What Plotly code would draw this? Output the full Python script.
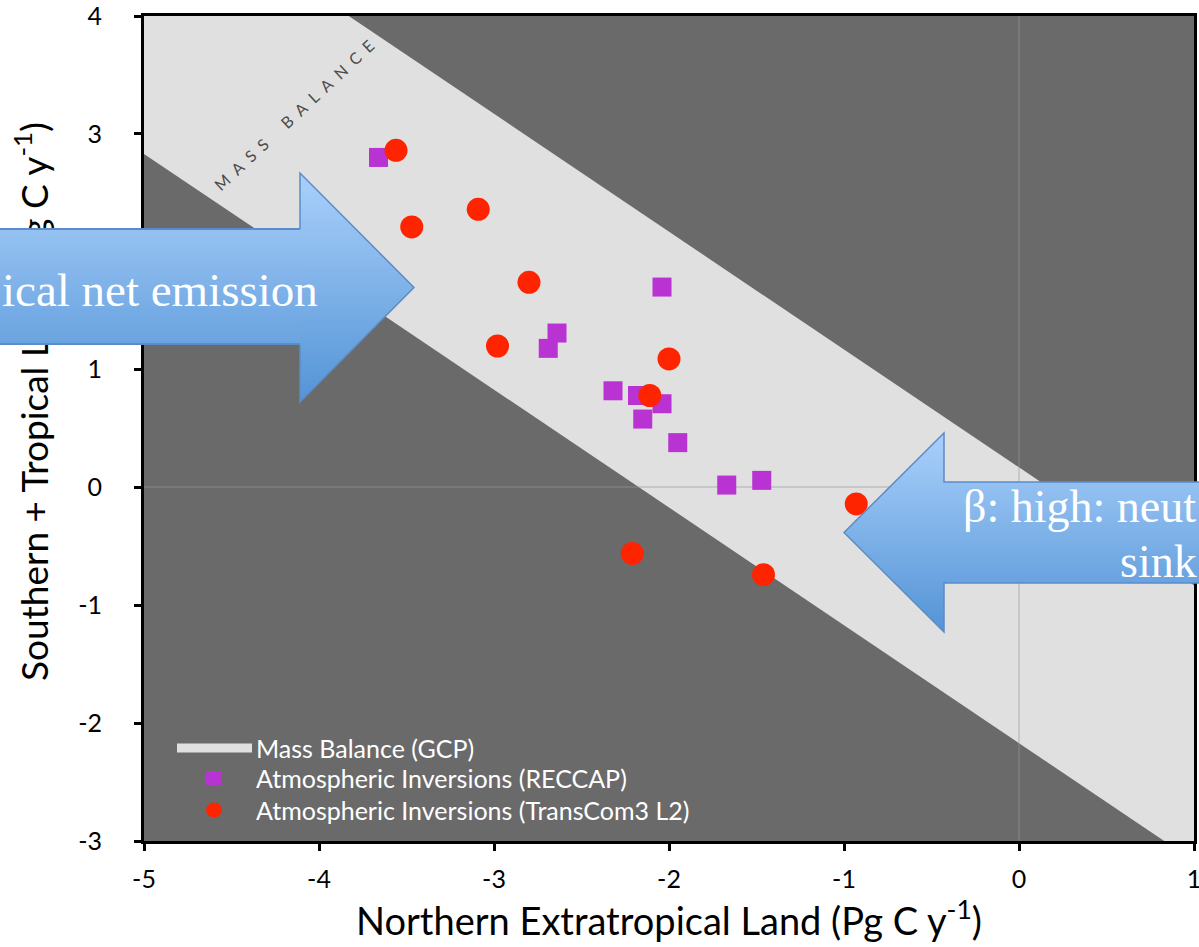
import plotly.graph_objects as go

# ---------------- data ----------------
reccap_x = [-3.66, -2.04, -2.64, -2.69, -2.32, -2.18, -2.04, -2.15, -1.95, -1.67, -1.47]
reccap_y = [2.80, 1.70, 1.31, 1.18, 0.82, 0.78, 0.71, 0.58, 0.38, 0.02, 0.06]

transcom_x = [-3.56, -3.47, -3.09, -2.80, -2.98, -2.00, -2.11, -2.21, -1.46, -0.93]
transcom_y = [2.86, 2.21, 2.36, 1.74, 1.20, 1.09, 0.78, -0.56, -0.74, -0.14]

# mass balance band: North + South/Tropical land sum between these limits
mass_balance_limits = [-2.17, 0.17]

x_range = [-5, 1]
y_range = [-3, 4]
x_tickvals = [-5, -4, -3, -2, -1, 0, 1]
x_ticktext = ["-5", "-4", "-3", "-2", "-1", "0", "1"]
y_tickvals = [-3, -2, -1, 0, 1, 2, 3, 4]
y_ticktext = ["-3", "-2", "-1", "0", "1", "2", "3", "4"]

legend_names = ["Mass Balance (GCP)", "Atmospheric Inversions (RECCAP)",
                "Atmospheric Inversions (TransCom3 L2)"]
arrow_texts = ["ical net emission", "β: high: neut", "sink"]

# ---------------- layout geometry (pixels) ----------------
W, H = 1199, 947
L, R, T, B = 144, 1194, 16, 841
FONT = "Lato"
PURPLE = "#b932d2"
RED = "#ff2400"
BAND = "#e0e0e0"
DARK = "#6a6a6a"


def pxx(x):
    return (x - L) / (R - L)


def pxy(y):
    return (B - y) / (B - T)


fig = go.Figure()

fig.add_trace(go.Scatter(
    x=reccap_x, y=reccap_y, mode="markers", name=legend_names[1],
    marker=dict(symbol="square", size=19, color=PURPLE, line=dict(width=0)),
    showlegend=False, cliponaxis=False))
fig.add_trace(go.Scatter(
    x=transcom_x, y=transcom_y, mode="markers", name=legend_names[2],
    marker=dict(symbol="circle", size=23, color=RED, line=dict(width=0)),
    showlegend=False, cliponaxis=False))

shapes = []
annotations = []

# band polygon (data coords, clipped by axes)
lo, hi = mass_balance_limits
x0, x1 = x_range
shapes.append(dict(
    type="path", xref="x", yref="y", layer="below",
    path=f"M{x0},{hi - x0} L{x1},{hi - x1} L{x1},{lo - x1} L{x0},{lo - x0} Z",
    fillcolor=BAND, line=dict(width=0)))

# ---------------- arrows with vertical gradient ----------------
TOP_C = (170, 208, 251)
BOT_C = (84, 148, 214)
EDGE = "#5a8ccb"


def grad(y, ytop, ybot):
    t = min(1, max(0, (y - ytop) / (ybot - ytop)))
    c = [round(a + (b - a) * t) for a, b in zip(TOP_C, BOT_C)]
    return "rgb(%d,%d,%d)" % tuple(c)


def clip(poly, inside, inter):
    out = []
    for i in range(len(poly)):
        cur, prev = poly[i], poly[i - 1]
        if inside(cur):
            if not inside(prev):
                out.append(inter(prev, cur))
            out.append(cur)
        elif inside(prev):
            out.append(inter(prev, cur))
    return out


def hcut(yc):
    def f(p, q):
        t = (yc - p[1]) / (q[1] - p[1])
        return (p[0] + t * (q[0] - p[0]), yc)
    return f


def gradient_shapes(poly, ytop, ybot, step=3):
    y = ytop
    while y < ybot:
        y0, y1 = y - 0.4, min(y + step, ybot) + 0.4
        p = clip(poly, lambda q: q[1] >= y0, hcut(y0))
        if p:
            p = clip(p, lambda q: q[1] <= y1, hcut(y1))
        if len(p) >= 3:
            path = "M" + " L".join(f"{pxx(a):.5f},{pxy(b):.5f}" for a, b in p) + " Z"
            shapes.append(dict(type="path", xref="paper", yref="paper", layer="above",
                               path=path, fillcolor=grad(y + step / 2, ytop, ybot),
                               line=dict(width=0)))
        y += step


def outline(points):
    path = "M" + " L".join(f"{pxx(a):.5f},{pxy(b):.5f}" for a, b in points)
    shapes.append(dict(type="path", xref="paper", yref="paper", layer="above",
                       path=path, line=dict(color=EDGE, width=1.5)))


# left arrow (pointing right)
LA_top, LA_bot = 173, 402
LA_btop, LA_bbot = 229, 344
LA_back, LA_tip = 300, 414
gradient_shapes([(LA_back, LA_top), (LA_tip, (LA_top + LA_bot) / 2), (LA_back, LA_bot)],
                LA_top, LA_bot)
outline([(LA_back, LA_btop), (LA_back, LA_top), (LA_tip, (LA_top + LA_bot) / 2),
         (LA_back, LA_bot), (LA_back, LA_bbot)])

# right arrow (pointing left)
RA_top, RA_bot = 433, 632
RA_btop, RA_bbot = 482, 583
RA_back, RA_tip, RA_end = 944, 844, 1210
RA_poly = [(RA_tip, (RA_top + RA_bot) / 2), (RA_back, RA_top), (RA_back, RA_btop),
           (RA_end, RA_btop), (RA_end, RA_bbot), (RA_back, RA_bbot), (RA_back, RA_bot)]
gradient_shapes(RA_poly, RA_top, RA_bot)
outline([(RA_end, RA_btop), (RA_back, RA_btop), (RA_back, RA_top),
         (RA_tip, (RA_top + RA_bot) / 2), (RA_back, RA_bot), (RA_back, RA_bbot),
         (RA_end, RA_bbot)])

# ---------------- y axis title (annotation, so the arrow body can cover it) ----------------
annotations.append(dict(
    text="Southern + Tropical Land (Pg C y<sup>-1</sup>)", textangle=-90,
    xref="paper", yref="paper", x=pxx(31), y=pxy(402), xanchor="center", yanchor="middle",
    showarrow=False, font=dict(family=FONT, size=37, color="black")))

# left arrow body as stacked annotation boxes (above the y-axis title)
step = 4
y = LA_btop
while y < LA_bbot:
    h = min(step, LA_bbot - y)
    annotations.append(dict(
        text="\u00a0", xref="paper", yref="paper", x=pxx(-3), y=pxy(y - 0.5),
        xanchor="left", yanchor="top", width=LA_back - (-3) + 1, height=h + 1,
        bgcolor=grad(y + h / 2, LA_top, LA_bot), borderpad=0, borderwidth=0,
        showarrow=False, font=dict(size=1, color="rgba(0,0,0,0)")))
    y += step
for yy in (LA_btop, LA_bbot):
    annotations.append(dict(
        text="\u00a0", xref="paper", yref="paper", x=pxx(-3), y=pxy(yy - 1),
        xanchor="left", yanchor="top", width=LA_back + 3, height=2,
        bgcolor=EDGE, borderpad=0, borderwidth=0,
        showarrow=False, font=dict(size=1, color="rgba(0,0,0,0)")))

# arrow texts
annotations.append(dict(
    text=arrow_texts[0], xref="paper", yref="paper", x=pxx(0), y=pxy(290),
    xanchor="left", yanchor="middle", showarrow=False,
    font=dict(family="Liberation Serif", size=47, color="white")))
annotations.append(dict(
    text=arrow_texts[1], xref="paper", yref="paper", x=pxx(961), y=pxy(506),
    xanchor="left", yanchor="middle", showarrow=False,
    font=dict(family="Liberation Serif", size=46, color="white")))
annotations.append(dict(
    text=arrow_texts[2], xref="paper", yref="paper", x=pxx(1118), y=pxy(561),
    xanchor="left", yanchor="middle", showarrow=False,
    font=dict(family="Liberation Serif", size=46, color="white")))

# MASS BALANCE label across the band
mb = "\u2002".join("MASS") + "\u2002\u2002\u2002" + "\u2002".join("BALANCE")
annotations.append(dict(
    text=mb, xref="paper", yref="paper", x=pxx(293), y=pxy(115),
    xanchor="center", yanchor="middle", textangle=-43, showarrow=False,
    font=dict(family=FONT, size=16, color="#4a4a4a")))

# ---------------- manual legend ----------------
leg_y = [748, 778, 810]
shapes.append(dict(type="line", xref="paper", yref="paper", layer="above",
                   x0=pxx(177), x1=pxx(252), y0=pxy(leg_y[0]), y1=pxy(leg_y[0]),
                   line=dict(color=BAND, width=9)))
shapes.append(dict(type="rect", xref="paper", yref="paper", layer="above",
                   x0=pxx(206), x1=pxx(222), y0=pxy(leg_y[1] - 7), y1=pxy(leg_y[1] + 7),
                   fillcolor=PURPLE, line=dict(width=0)))
shapes.append(dict(type="circle", xref="paper", yref="paper", layer="above",
                   x0=pxx(206), x1=pxx(222), y0=pxy(leg_y[2] - 7.5), y1=pxy(leg_y[2] + 7.5),
                   fillcolor=RED, line=dict(width=0)))
for name, yy in zip(legend_names, leg_y):
    annotations.append(dict(
        text=name, xref="paper", yref="paper", x=pxx(254), y=pxy(yy),
        xanchor="left", yanchor="middle", showarrow=False,
        font=dict(family=FONT, size=25, color="white")))

axis_common = dict(
    showline=True, linecolor="black", linewidth=3, mirror=True,
    ticks="outside", ticklen=7, tickwidth=3, tickcolor="black",
    showgrid=False, zeroline=True, zerolinecolor="rgba(153,153,153,0.34)",
    zerolinewidth=2, tickfont=dict(family=FONT, size=25, color="black"),
    ticklabeloverflow="allow",
)

fig.update_layout(
    width=W, height=H,
    margin=dict(l=L, r=W - R, t=T, b=H - B, autoexpand=False),
    paper_bgcolor="white", plot_bgcolor=DARK,
    showlegend=False,
    xaxis=dict(range=x_range, tickvals=x_tickvals, ticktext=x_ticktext,
               ticklabelstandoff=7,
               title=dict(text="Northern Extratropical Land (Pg C y<sup>-1</sup>)",
                          font=dict(family=FONT, size=38, color="black"), standoff=6),
               **axis_common),
    yaxis=dict(range=y_range, tickvals=y_tickvals, ticktext=y_ticktext,
               ticklabelstandoff=27, **axis_common),
    shapes=shapes, annotations=annotations,
)

fig.write_html("out.html")
